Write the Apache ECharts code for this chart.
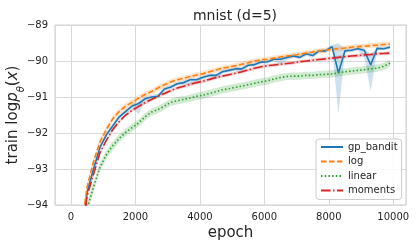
<!DOCTYPE html>
<html><head><meta charset="utf-8">
<script src="https://cdn.jsdelivr.net/npm/echarts@6/dist/echarts.min.js"></script>
<style>html,body{margin:0;padding:0;background:#fff}#c{width:416px;height:248px}</style>
</head><body><div id="c"></div>
<script>
const epochs = [100,300,500,700,900,1100,1300,1500,1700,1900,2100,2300,2500,2700,2900,3100,3300,3500,3700,3900,4100,4300,4500,4700,4900,5100,5300,5500,5700,5900,6100,6300,6500,6700,6900,7100,7300,7500,7700,7900,8100,8300,8500,8700,8900,9100,9300,9500,9700,9900];

const gpBandit = [-97.8,-95.1,-93.65,-93.0,-92.4,-92.05,-91.8,-91.55,-91.4,-91.25,-91.18,-91.05,-91.0,-90.98,-90.78,-90.72,-90.63,-90.6,-90.52,-90.52,-90.45,-90.4,-90.4,-90.3,-90.26,-90.22,-90.22,-90.12,-90.1,-90.03,-90.02,-89.95,-89.95,-89.9,-89.86,-89.9,-89.8,-89.85,-89.72,-89.72,-89.6,-90.33,-89.72,-89.7,-89.66,-89.7,-90.11,-89.65,-89.66,-89.62];
const gpBanditLo = [0.2,0.15,0.1,0.08,0.06,0.06,0.06,0.06,0.06,0.06,0.3,0.06,0.06,0.06,0.05,0.05,0.05,0.05,0.15,0.05,0.05,0.05,0.12,0.05,0.05,0.05,0.12,0.05,0.05,0.05,0.05,0.05,0.15,0.08,0.05,0.05,0.06,0.06,0.05,0.05,0.06,1.14,0.06,0.05,0.05,0.2,0.74,0.05,0.05,0.05];
const gpBanditHi = [0.2,0.15,0.1,0.08,0.06,0.06,0.06,0.06,0.06,0.06,0.06,0.06,0.06,0.06,0.05,0.05,0.05,0.05,0.05,0.05,0.05,0.05,0.05,0.05,0.05,0.05,0.05,0.05,0.05,0.05,0.05,0.05,0.05,0.05,0.05,0.05,0.08,0.08,0.05,0.05,0.06,0.82,0.06,0.05,0.05,0.05,0.3,0.05,0.05,0.05];

const logMean = [-97.5,-94.8,-93.5,-92.8,-92.25,-91.9,-91.6,-91.4,-91.25,-91.15,-91.03,-90.93,-90.85,-90.75,-90.66,-90.58,-90.52,-90.48,-90.43,-90.39,-90.35,-90.3,-90.25,-90.2,-90.17,-90.13,-90.09,-90.05,-90.0,-89.97,-89.95,-89.92,-89.89,-89.86,-89.84,-89.81,-89.78,-89.75,-89.72,-89.7,-89.67,-89.66,-89.64,-89.62,-89.6,-89.59,-89.57,-89.56,-89.54,-89.53];
const logSpread = [0.2,0.15,0.12,0.1,0.1,0.09,0.08,0.08,0.08,0.08,0.08,0.08,0.08,0.08,0.08,0.08,0.07,0.07,0.07,0.07,0.07,0.07,0.07,0.07,0.07,0.07,0.07,0.07,0.07,0.07,0.07,0.07,0.07,0.07,0.07,0.07,0.07,0.07,0.07,0.07,0.07,0.07,0.07,0.07,0.07,0.07,0.07,0.07,0.07,0.07];

const linearMean = [-99.5,-96.2,-94.1,-93.5,-92.95,-92.6,-92.35,-92.15,-91.98,-91.85,-91.72,-91.55,-91.42,-91.35,-91.25,-91.15,-91.1,-91.07,-91.03,-90.98,-90.95,-90.9,-90.85,-90.8,-90.77,-90.73,-90.7,-90.66,-90.62,-90.58,-90.55,-90.5,-90.46,-90.43,-90.42,-90.42,-90.4,-90.4,-90.38,-90.37,-90.36,-90.33,-90.3,-90.28,-90.26,-90.24,-90.22,-90.2,-90.15,-90.06];
const linearSpread = [0.2,0.18,0.15,0.13,0.12,0.12,0.12,0.11,0.11,0.11,0.1,0.1,0.1,0.1,0.1,0.1,0.1,0.1,0.1,0.1,0.1,0.1,0.1,0.1,0.1,0.1,0.1,0.1,0.1,0.1,0.1,0.1,0.1,0.1,0.1,0.1,0.1,0.1,0.1,0.1,0.1,0.1,0.1,0.1,0.1,0.1,0.1,0.1,0.1,0.1];

const momentsMean = [-98.0,-95.3,-93.75,-93.15,-92.55,-92.2,-91.9,-91.68,-91.5,-91.37,-91.26,-91.16,-91.07,-90.98,-90.9,-90.82,-90.75,-90.7,-90.65,-90.6,-90.56,-90.51,-90.46,-90.42,-90.38,-90.34,-90.3,-90.25,-90.2,-90.16,-90.13,-90.11,-90.09,-90.07,-90.05,-90.02,-90.0,-89.98,-89.96,-89.94,-89.92,-89.9,-89.88,-89.86,-89.85,-89.83,-89.82,-89.8,-89.79,-89.78];
const momentsSpread = [0.15,0.1,0.08,0.06,0.05,0.05,0.05,0.05,0.05,0.05,0.05,0.05,0.05,0.05,0.05,0.05,0.05,0.05,0.05,0.05,0.05,0.05,0.05,0.05,0.05,0.05,0.05,0.05,0.05,0.05,0.05,0.05,0.05,0.05,0.05,0.05,0.05,0.05,0.05,0.05,0.05,0.05,0.05,0.05,0.05,0.05,0.05,0.05,0.05,0.05];

const yTicks = [-94,-93,-92,-91,-90,-89];

const defs = [
  {name:'gp_bandit', mean:gpBandit, lo:gpBanditLo, hi:gpBanditHi, color:'#1f77b4', fill:'rgba(31,119,180,0.22)', type:'solid'},
  {name:'log', mean:logMean, lo:logSpread, hi:logSpread, color:'#ff7f0e', fill:'rgba(255,127,14,0.22)', type:[5.55,2.4]},
  {name:'linear', mean:linearMean, lo:linearSpread, hi:linearSpread, color:'#2ca02c', fill:'rgba(44,160,44,0.22)', type:[1.5,2.2]},
  {name:'moments', mean:momentsMean, lo:momentsSpread, hi:momentsSpread, color:'#d62728', fill:'rgba(214,39,40,0.22)', type:[9.6,2.4,1.5,2.4]}
];

const series = [];
defs.forEach(d => {
  const bandData = epochs.map((e,i)=>[e, d.mean[i]-d.lo[i], d.mean[i]+d.hi[i]]);
  series.push({type:'custom', name:d.name+' band', silent:true, clip:true, z:1,
    encode:{x:0, y:[1,2]},
    data:bandData,
    renderItem:(params, api) => {
      if (params.dataIndexInside !== 0) return null;
      const n = params.dataInsideLength;
      const top = [], bot = [];
      for (let j = 0; j < n; j++) {
        const x = api.value(0, j);
        bot.push(api.coord([x, api.value(1, j)]));
        top.push(api.coord([x, api.value(2, j)]));
      }
      const pts = top.concat(bot.reverse());
      const cs = params.coordSys;
      return {type:'polygon', shape:{points:pts}, style:{fill:d.fill},
        clipPath:{type:'rect', shape:{x:cs.x, y:cs.y, width:cs.width, height:cs.height}}};
    }
  });
});
defs.forEach(d => {
  series.push({type:'line', name:d.name, symbol:'none', z:3,
    lineStyle:{color:d.color, width:1.6, type:d.type, cap:'butt'}, itemStyle:{color:d.color},
    data:epochs.map((e,i)=>[e, d.mean[i]])});
});

const minus = v => String(v).replace('-', '\u2212');
const chart = echarts.init(document.getElementById('c'), null, {renderer:'canvas'});
chart.setOption({
  animation:false,
  backgroundColor:'#fff',
  textStyle:{fontFamily:'DejaVu Sans'},
  title:{text:'mnist (d=5)', left:230, top:4, textAlign:'center',
    textStyle:{fontSize:14, fontWeight:'normal', color:'#262626', fontFamily:'DejaVu Sans'}},
  grid:{left:55, right:10, top:25, bottom:43, show:true, borderColor:'#cccccc', borderWidth:1,
    containLabel:false, outerBoundsMode:'none'},
  legend:{data:defs.map(d=>d.name), orient:'vertical', left:316, top:139,
    itemWidth:22, itemHeight:10, itemGap:4.5, itemTextGap:6,
    itemStyle:{opacity:0},
    padding:[3,4,4,4], backgroundColor:'rgba(255,255,255,0.85)', borderColor:'#cccccc', borderWidth:1, borderRadius:3,
    textStyle:{fontSize:10, color:'#262626', fontFamily:'DejaVu Sans'}},
  xAxis:{type:'value', min:-495, max:10395, splitNumber:5,
    axisLine:{show:false}, axisTick:{show:false},
    splitLine:{show:true, lineStyle:{color:'#d9d9d9', width:1}},
    axisLabel:{fontSize:10, color:'#262626', margin:7, showMinLabel:false, showMaxLabel:false, formatter:v=>minus(v)},
    name:'epoch', nameLocation:'middle', nameGap:21, nameMoveOverlap:false,
    nameTextStyle:{fontSize:15, color:'#262626', fontFamily:'DejaVu Sans', verticalAlign:'top'}},
  yAxis:{type:'value', min:yTicks[0], max:yTicks[yTicks.length-1], interval:1,
    axisLine:{show:false}, axisTick:{show:false},
    splitLine:{show:true, lineStyle:{color:'#d9d9d9', width:1}},
    axisLabel:{fontSize:10, color:'#262626', margin:7, formatter:v=>minus(v)},
    name:'{a|train log}{i|p}{s|θ}{a|(}{i|x}{a|)}', nameLocation:'middle', nameGap:29, nameMoveOverlap:false,
    nameTextStyle:{fontSize:15, color:'#262626', fontFamily:'DejaVu Sans',
      rich:{a:{fontSize:15, color:'#262626', fontFamily:'DejaVu Sans'},
            i:{fontSize:15, color:'#262626', fontStyle:'italic', fontFamily:'DejaVu Sans'},
            s:{fontSize:10, color:'#262626', fontStyle:'italic', fontFamily:'DejaVu Sans', verticalAlign:'bottom', lineHeight:26}}}},
  series:series
});
</script></body></html>
